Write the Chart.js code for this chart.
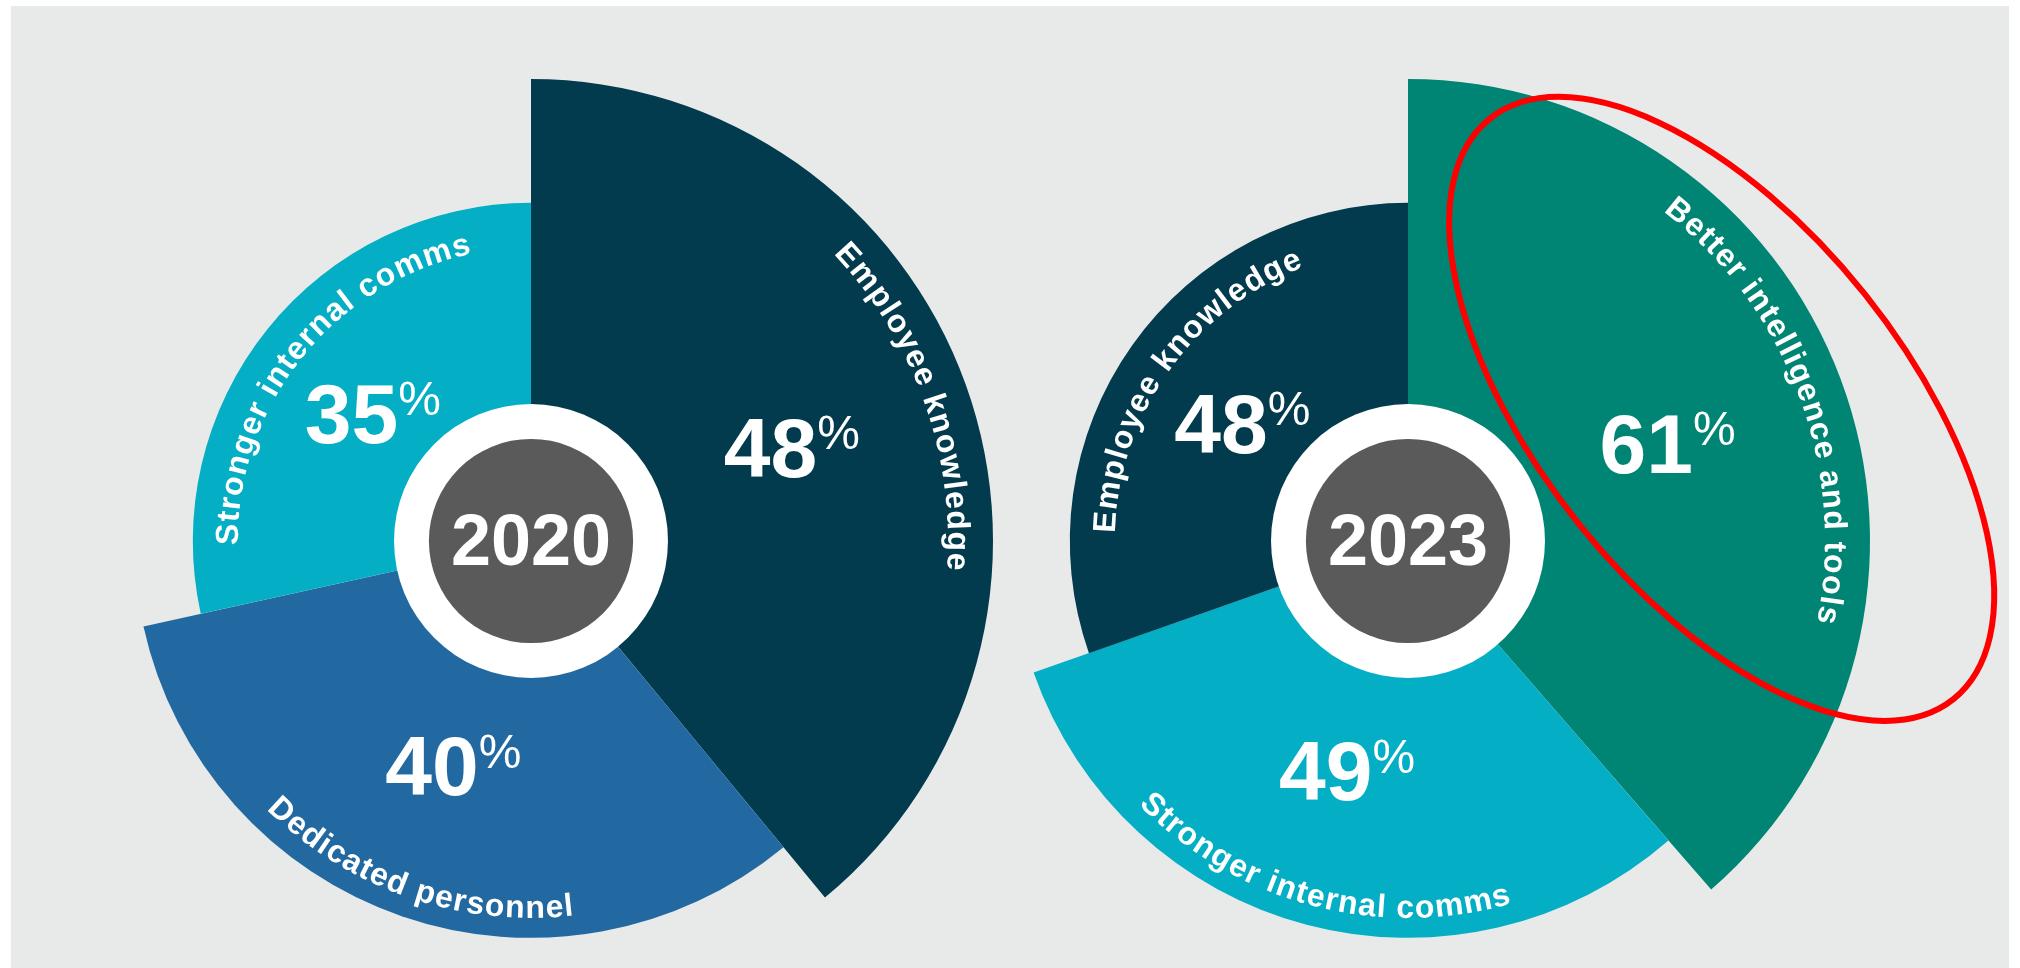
<!DOCTYPE html>
<html>
<head>
<meta charset="utf-8">
<title>Priorities 2020 vs 2023</title>
<script src="https://cdn.jsdelivr.net/npm/chart.js@4.4.1/dist/chart.umd.min.js"></script>
<style>
  html, body { margin: 0; padding: 0; width: 2020px; height: 968px; overflow: hidden; background: #ffffff; }
  #panel { position: absolute; left: 11px; top: 6px; width: 1998px; height: 962px; background: #e8eae9; }
  canvas { position: absolute; }
  #chart2020 { left: -69px; top: -59px; }
  #chart2023 { left: 808px; top: -59px; }
</style>
</head>
<body>
<div id="panel"></div>
<canvas id="chart2020" width="1200" height="1200"></canvas>
<canvas id="chart2023" width="1200" height="1200"></canvas>
<script>
// ---- data ----
const years = ['2020', '2023'];
const categories2020 = ['Employee knowledge', 'Dedicated personnel', 'Stronger internal comms'];
const values2020 = [48, 40, 35];
const categories2023 = ['Better intelligence and tools', 'Stronger internal comms', 'Employee knowledge'];
const values2023 = [61, 49, 48];

// ---- styles ----
const categoryColors = {
  'Employee knowledge': '#023b4e',
  'Dedicated personnel': '#2269a2',
  'Stronger internal comms': '#04aec4',
  'Better intelligence and tools': '#008474'
};
const FONT = "'Liberation Sans', Arial, Helvetica, sans-serif";
// wedge length by rank of its share: smallest, middle, largest
const RADIUS_BY_RANK = [0.732, 0.859, 1];

// Writes text along a circle of radius r, centred on angle mid.
// clockwise: letters stand outward; otherwise they stand inward (bottom of the ring).
function drawArcText(ctx, text, cx, cy, r, mid, clockwise) {
  ctx.font = `bold 32px ${FONT}`;
  ctx.fillStyle = '#ffffff';
  ctx.textAlign = 'center';
  ctx.textBaseline = 'alphabetic';
  const spacing = 1.2;
  const chars = [...text];
  const widths = chars.map(ch => ctx.measureText(ch).width);
  const total = widths.reduce((s, w) => s + w, 0) + spacing * (chars.length - 1);
  let pos = -total / 2;
  chars.forEach((ch, i) => {
    const along = pos + widths[i] / 2;
    const a = clockwise ? mid + along / r : mid - along / r;
    ctx.save();
    ctx.translate(cx + r * Math.cos(a), cy + r * Math.sin(a));
    ctx.rotate(clockwise ? a + Math.PI / 2 : a - Math.PI / 2);
    ctx.fillText(ch, 0, 0);
    ctx.restore();
    pos += widths[i] + spacing;
  });
}

// Big share figure with a raised percent sign, centred on (x, y).
function drawPercent(ctx, value, x, y) {
  const num = String(value);
  ctx.fillStyle = '#ffffff';
  ctx.textAlign = 'left';
  ctx.textBaseline = 'alphabetic';
  ctx.font = `bold 84px ${FONT}`;
  const m = ctx.measureText(num);
  const cap = m.actualBoundingBoxAscent;
  ctx.font = `48px ${FONT}`;
  const pm = ctx.measureText('%');
  const left = x - (m.width + pm.width) / 2;
  const base = y + cap / 2;
  ctx.font = `bold 84px ${FONT}`;
  ctx.fillText(num, left, base);
  ctx.font = `48px ${FONT}`;
  ctx.fillText('%', left + m.width, base - cap - 3 + pm.actualBoundingBoxAscent);
}

const wedgePlugin = {
  id: 'wedges',
  afterDatasetUpdate(chart, args) {
    const meta = args.meta;
    const values = chart.data.datasets[args.index].data;
    const sorted = [...values].sort((a, b) => a - b);
    meta.data.forEach((arc, i) => {
      arc.outerRadius = meta.controller.outerRadius * RADIUS_BY_RANK[sorted.indexOf(values[i])];
    });
  },
  afterDatasetsDraw(chart, args, opts) {
    const ctx = chart.ctx;
    const meta = chart.getDatasetMeta(0);
    const values = chart.data.datasets[0].data;
    const labels = chart.data.labels;
    const cx = meta.data[0].x, cy = meta.data[0].y;
    const R = meta.controller.outerRadius;
    ctx.save();
    meta.data.forEach((arc, i) => {
      const mid = (arc.startAngle + arc.endAngle) / 2;
      const r = arc.outerRadius;
      drawPercent(ctx, values[i], cx + 0.6 * r * Math.cos(mid), cy + 0.6 * r * Math.sin(mid));
      let fromTop = (mid + Math.PI / 2) % (2 * Math.PI);
      if (fromTop < 0) fromTop += 2 * Math.PI;
      const bottom = fromTop > 2 * Math.PI / 3 && fromTop < 4 * Math.PI / 3;
      drawArcText(ctx, labels[i], cx, cy, bottom ? r - 20 : r - 45, mid, !bottom);
    });
    // hub with the year
    ctx.fillStyle = '#ffffff';
    ctx.beginPath(); ctx.arc(cx, cy, 0.2965 * R, 0, 2 * Math.PI); ctx.fill();
    ctx.fillStyle = '#5a5a5a';
    ctx.beginPath(); ctx.arc(cx, cy, 0.221 * R, 0, 2 * Math.PI); ctx.fill();
    ctx.fillStyle = '#ffffff';
    ctx.font = `bold 72px ${FONT}`;
    ctx.textAlign = 'center';
    ctx.textBaseline = 'alphabetic';
    const ym = ctx.measureText(opts.year);
    ctx.fillText(opts.year, cx, cy - 2 + ym.actualBoundingBoxAscent / 2);
    ctx.restore();
  },
  afterDraw(chart, args, opts) {
    if (!opts.highlight) return;
    // red ring drawn round the highlighted wedge
    const ctx = chart.ctx;
    const meta = chart.getDatasetMeta(0);
    const R = meta.controller.outerRadius;
    const cx = meta.data[0].x, cy = meta.data[0].y;
    ctx.save();
    ctx.strokeStyle = '#ff0000';
    ctx.lineWidth = 6;
    ctx.beginPath();
    ctx.ellipse(cx + 0.679 * R, cy - 0.286 * R, 0.804 * R, 0.397 * R, 51.4 * Math.PI / 180, 0, 2 * Math.PI);
    ctx.stroke();
    ctx.restore();
  }
};

function makeChart(id, year, labels, values, highlight) {
  return new Chart(document.getElementById(id), {
    type: 'pie',
    data: {
      labels: labels,
      datasets: [{
        data: values,
        backgroundColor: labels.map(l => categoryColors[l]),
        borderWidth: 0,
        hoverOffset: 0
      }]
    },
    options: {
      responsive: false,
      animation: false,
      devicePixelRatio: 1,
      events: [],
      layout: { padding: 138 },
      plugins: {
        legend: { display: false },
        tooltip: { enabled: false },
        wedges: { year: year, highlight: !!highlight }
      }
    },
    plugins: [wedgePlugin]
  });
}

makeChart('chart2020', years[0], categories2020, values2020, false);
makeChart('chart2023', years[1], categories2023, values2023, true);
</script>
</body>
</html>
